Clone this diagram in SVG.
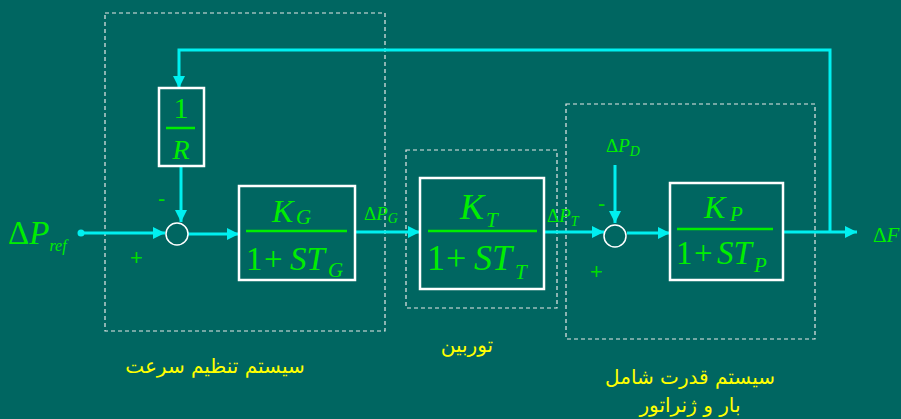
<svg xmlns="http://www.w3.org/2000/svg" width="901" height="419" viewBox="0 0 901 419">
<defs>
<style>
.dash{fill:none;stroke:#e8e8e8;stroke-width:1.2;stroke-dasharray:4 3}
.blk{fill:none;stroke:#ffffff;stroke-width:2.5}
.ln{fill:none;stroke:#00f0f0;stroke-width:3}
.frac{stroke:#00ee00;stroke-width:2.5}
.m{font-family:"Liberation Serif",serif;fill:#00ee00}
.i{font-style:italic}
.sg{font-family:"Liberation Sans",sans-serif;fill:#00dd00;font-size:22px}
.fa{font-family:"DejaVu Sans","Noto Sans",sans-serif;fill:#ffff00;font-size:20px;text-anchor:middle}
.sum{fill:none;stroke:#ffffff;stroke-width:1.5}
</style>
<marker id="ar" viewBox="0 0 10 10" refX="10" refY="5" markerWidth="4" markerHeight="4" orient="auto" markerUnits="strokeWidth">
<path d="M0,0 L10,5 L0,10 z" fill="#00f0f0"/>
</marker>
</defs>
<rect width="901" height="419" fill="#006661"/>

<g id="frames">
<rect class="dash" x="105" y="13" width="280" height="318"/>
<rect class="dash" x="406" y="150" width="151" height="158"/>
<rect class="dash" x="566" y="104" width="249" height="235"/>
</g>

<g id="connectors">
<circle cx="81" cy="233" r="3.5" fill="#00f0f0"/>
<path class="ln" d="M81,233 L165,233" marker-end="url(#ar)"/>
<path class="ln" d="M188,234 L239,234" marker-end="url(#ar)"/>
<path class="ln" d="M181,167 L181,222" marker-end="url(#ar)"/>
<path class="ln" d="M356,232 L420,232" marker-end="url(#ar)"/>
<path class="ln" d="M545,232 L604,232" marker-end="url(#ar)"/>
<path class="ln" d="M615,165 L615,223" marker-end="url(#ar)"/>
<path class="ln" d="M627,233 L670,233" marker-end="url(#ar)"/>
<path class="ln" d="M783,232 L857,232" marker-end="url(#ar)"/>
<path class="ln" d="M830,232 L830,50 L179,50 L179,88" marker-end="url(#ar)"/>
</g>

<g id="input">
<text class="m" x="8" y="244"><tspan font-size="33">Δ</tspan><tspan class="i" font-size="33">P</tspan><tspan class="i" font-size="16" dy="7">ref</tspan></text>
</g>

<g id="sum1">
<circle class="sum" cx="177" cy="234" r="11"/>
<text class="sg" x="158" y="206">-</text>
<text class="sg" x="130" y="265">+</text>
</g>

<g id="block-R">
<rect class="blk" x="159" y="88" width="45" height="78"/>
<text class="m" x="181" y="118" font-size="30" text-anchor="middle">1</text>
<line class="frac" x1="166" y1="128" x2="195" y2="128"/>
<text class="m i" x="181" y="159" font-size="28" text-anchor="middle">R</text>
</g>

<g id="block-G">
<rect class="blk" x="239" y="186" width="116" height="94"/>
<text class="m i" x="272" y="222" font-size="32">K</text>
<text class="m i" x="296" y="224" font-size="21">G</text>
<line class="frac" x1="246" y1="231" x2="347" y2="231"/>
<text class="m" x="246" y="270" font-size="33">1</text>
<text class="m" x="264" y="270" font-size="33">+</text>
<text class="m i" x="290" y="270" font-size="33">ST</text>
<text class="m i" x="328" y="277" font-size="21">G</text>
<text class="m" x="364" y="220" font-size="19">Δ<tspan class="i">P</tspan><tspan class="i" font-size="14" dy="3">G</tspan></text>
</g>

<g id="block-T">
<rect class="blk" x="420" y="178" width="124" height="111"/>
<text class="m i" x="460" y="219" font-size="36">K</text>
<text class="m i" x="486" y="227" font-size="21">T</text>
<line class="frac" x1="428" y1="231" x2="537" y2="231"/>
<text class="m" x="427" y="270" font-size="36">1</text>
<text class="m" x="446" y="270" font-size="36">+</text>
<text class="m i" x="474" y="270" font-size="36">ST</text>
<text class="m i" x="515" y="279" font-size="21">T</text>
<text class="m" x="547" y="222" font-size="19">Δ<tspan class="i">P</tspan><tspan class="i" font-size="14" dy="4">T</tspan></text>
</g>

<g id="sum2">
<circle class="sum" cx="615" cy="236" r="11"/>
<text class="m" x="606" y="152" font-size="19">Δ<tspan class="i">P</tspan><tspan class="i" font-size="14" dy="4">D</tspan></text>
<text class="sg" x="598" y="211">-</text>
<text class="sg" x="590" y="279">+</text>
</g>

<g id="block-P">
<rect class="blk" x="670" y="183" width="113" height="97"/>
<text class="m i" x="704" y="218" font-size="32">K</text>
<text class="m i" x="730" y="221" font-size="21">P</text>
<line class="frac" x1="677" y1="229" x2="773" y2="229"/>
<text class="m" x="676" y="264" font-size="33">1</text>
<text class="m" x="694" y="264" font-size="33">+</text>
<text class="m i" x="717" y="264" font-size="33">ST</text>
<text class="m i" x="754" y="272" font-size="21">P</text>
</g>

<g id="output">
<text class="m" x="873" y="242" font-size="21">Δ<tspan class="i">F</tspan></text>
</g>

<g id="labels">
<text class="fa" x="215" y="373">سیستم تنظیم سرعت</text>
<text class="fa" x="467" y="352">توربین</text>
<text class="fa" x="690" y="384">سیستم قدرت شامل</text>
<text class="fa" x="690" y="412">بار و ژنراتور</text>
</g>
</svg>
